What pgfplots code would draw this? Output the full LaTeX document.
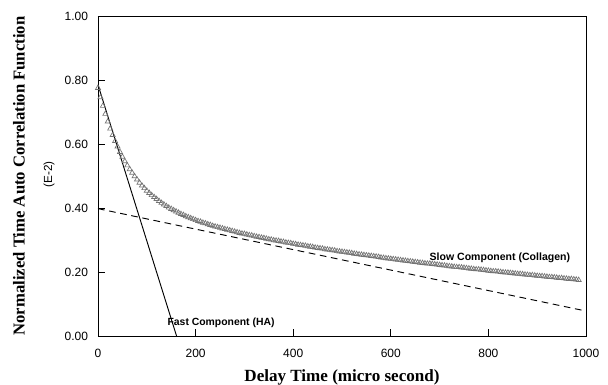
\documentclass[border=0pt]{standalone}
\usepackage{pgfplots}
\pgfplotsset{compat=1.18}
\usepackage{fontspec}
\setmainfont{Liberation Sans}
\newfontfamily\labfont{Liberation Serif}
\begin{document}
\begin{tikzpicture}
\useasboundingbox (-73.5pt,-36.75pt) rectangle (382.5pt,252pt);
\begin{axis}[
  scale only axis,
  width=366pt, height=240pt,
  xmin=0, xmax=1000, ymin=0, ymax=1,
  xtick={0,200,400,600,800,1000},
  ytick={0,0.2,0.4,0.6,0.8,1.0},
  xticklabel style={/pgf/number format/set thousands separator={}},
  yticklabel style={/pgf/number format/fixed, /pgf/number format/fixed zerofill, /pgf/number format/precision=2},
  /pgf/number format/assume math mode=true,
  tick align=inside,
  xtick pos=bottom, ytick pos=left,
  major tick length=5pt,
  tick style={black, line width=0.6pt},
  axis line style={line width=0.7pt},
  ticklabel style={font=\fontsize{9}{10}\selectfont},
  xticklabel style={yshift=-6pt},
  yticklabel style={xshift=-4pt},
  clip=false,
]
\addplot[only marks, mark=triangle, mark size=2.2pt, color=black!55, mark options={line width=0.5pt}] coordinates {
(0,0.775)(5,0.746)(10,0.719)(15,0.694)(20,0.670)(25,0.648)(30,0.628)(35,0.609)(40,0.592)(45,0.575)
(50,0.560)(55,0.546)(60,0.533)(65,0.521)(70,0.510)(75,0.499)(80,0.489)(85,0.479)(90,0.470)(95,0.462)
(100,0.454)(105,0.447)(110,0.440)(115,0.434)(120,0.428)(125,0.422)(130,0.416)(135,0.411)(140,0.406)(145,0.401)
(150,0.397)(155,0.393)(160,0.389)(165,0.385)(170,0.381)(175,0.378)(180,0.374)(185,0.371)(190,0.368)(195,0.365)
(200,0.362)(205,0.359)(210,0.357)(215,0.354)(220,0.352)(225,0.349)(230,0.347)(235,0.344)(240,0.342)(245,0.340)
(250,0.338)(255,0.336)(260,0.334)(265,0.332)(270,0.330)(275,0.328)(280,0.326)(285,0.324)(290,0.322)(295,0.320)
(300,0.319)(305,0.317)(310,0.315)(315,0.314)(320,0.312)(325,0.310)(330,0.309)(335,0.307)(340,0.306)(345,0.304)
(350,0.302)(355,0.301)(360,0.299)(365,0.298)(370,0.297)(375,0.295)(380,0.294)(385,0.292)(390,0.291)(395,0.290)
(400,0.288)(405,0.287)(410,0.285)(415,0.284)(420,0.283)(425,0.282)(430,0.280)(435,0.279)(440,0.278)(445,0.276)
(450,0.275)(455,0.274)(460,0.273)(465,0.271)(470,0.270)(475,0.269)(480,0.268)(485,0.267)(490,0.265)(495,0.264)
(500,0.263)(505,0.262)(510,0.261)(515,0.260)(520,0.259)(525,0.257)(530,0.256)(535,0.255)(540,0.254)(545,0.253)
(550,0.252)(555,0.251)(560,0.250)(565,0.249)(570,0.248)(575,0.247)(580,0.245)(585,0.244)(590,0.243)(595,0.242)
(600,0.241)(605,0.240)(610,0.239)(615,0.238)(620,0.237)(625,0.236)(630,0.235)(635,0.234)(640,0.233)(645,0.232)
(650,0.231)(655,0.230)(660,0.229)(665,0.228)(670,0.227)(675,0.226)(680,0.226)(685,0.225)(690,0.224)(695,0.223)
(700,0.222)(705,0.221)(710,0.220)(715,0.219)(720,0.218)(725,0.217)(730,0.216)(735,0.215)(740,0.215)(745,0.214)
(750,0.213)(755,0.212)(760,0.211)(765,0.210)(770,0.209)(775,0.208)(780,0.208)(785,0.207)(790,0.206)(795,0.205)
(800,0.204)(805,0.203)(810,0.202)(815,0.202)(820,0.201)(825,0.200)(830,0.199)(835,0.198)(840,0.198)(845,0.197)
(850,0.196)(855,0.195)(860,0.194)(865,0.194)(870,0.193)(875,0.192)(880,0.191)(885,0.190)(890,0.190)(895,0.189)
(900,0.188)(905,0.187)(910,0.187)(915,0.186)(920,0.185)(925,0.184)(930,0.184)(935,0.183)(940,0.182)(945,0.181)
(950,0.181)(955,0.180)(960,0.179)(965,0.178)(970,0.178)(975,0.177)(980,0.176)(985,0.175)
};
\addplot[black, line width=0.7pt] coordinates {(0,0.785)(161,0)};
\addplot[black, line width=0.7pt, dash pattern=on 5pt off 3.5pt] coordinates {(0,0.398)(1000,0.078)};
\node[anchor=west, font=\fontsize{7.8}{9}\selectfont\bfseries] at (axis cs:133,0.041) {Fast Component (HA)};
\node[anchor=west, font=\fontsize{7.9}{9}\selectfont\bfseries] at (axis cs:670,0.244) {Slow Component (Collagen)};
\node[font=\labfont\bfseries\fontsize{12.8}{14}\selectfont] at ([yshift=-31pt]rel axis cs:0.5,0) {Delay Time (micro second)};
\node[rotate=90, font=\labfont\bfseries\fontsize{12.5}{14}\selectfont] at ([xshift=-59.25pt]rel axis cs:0,0.5) {Normalized Time Auto Correlation Function};
\node[rotate=90, font=\fontsize{8.8}{10}\selectfont] at ([xshift=-36.75pt]rel axis cs:0,0.505) {(E-2)};
\end{axis}
\end{tikzpicture}
\end{document}
